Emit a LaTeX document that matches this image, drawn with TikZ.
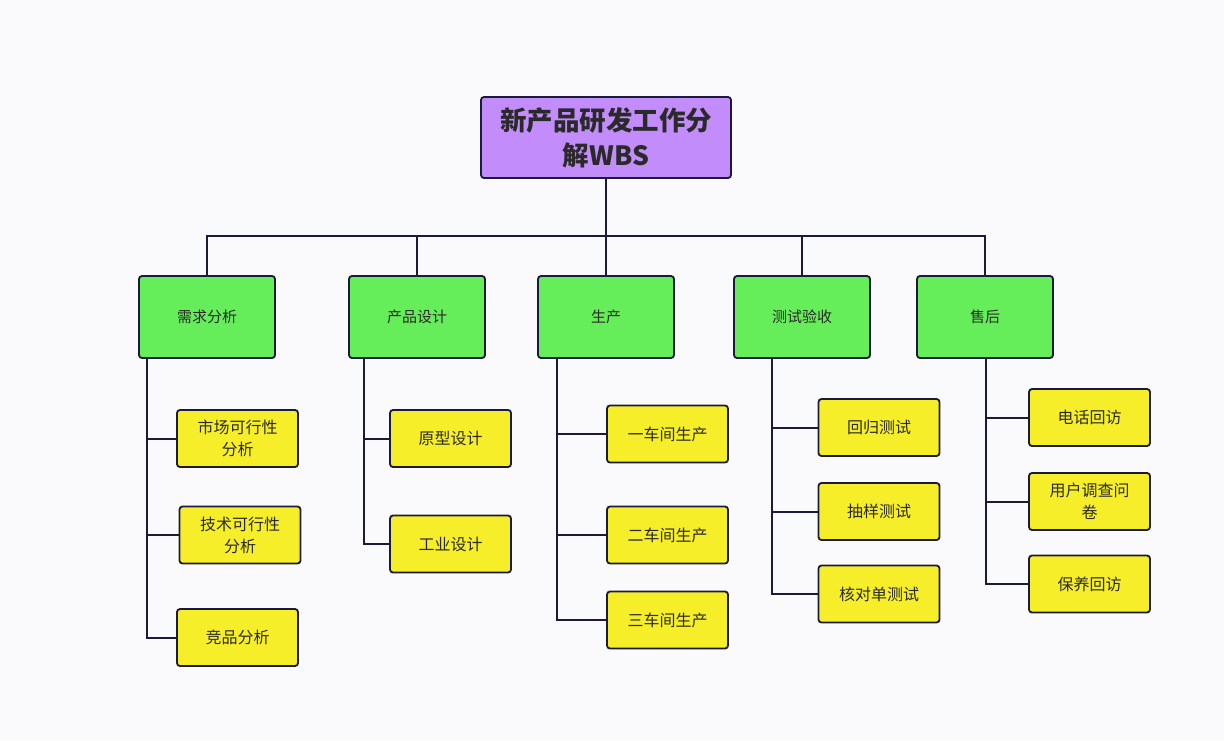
\documentclass[tikz,border=0pt]{standalone}
\usepackage{fontspec}
\newfontfamily\cjk{Noto Sans CJK SC}
\definecolor{bgc}{HTML}{FAFAFC}
\definecolor{rootfill}{HTML}{C28CFA}
\definecolor{lonefill}{HTML}{66EE5A}
\definecolor{ltwofill}{HTML}{F7EE2A}
\definecolor{linec}{HTML}{1A1A3A}
\definecolor{txtc}{HTML}{2A2A2A}
\begin{document}
\begin{tikzpicture}[x=1pt,y=-1pt,
  rootbox/.style={draw=linec,line width=1.8pt,rounded corners=3pt,fill=rootfill,minimum width=250pt,minimum height=81pt,align=center,font=\cjk\bfseries\fontsize{26.5}{35}\selectfont,text=txtc,inner sep=0pt},
  lonebox/.style={draw=linec,line width=1.8pt,rounded corners=3pt,fill=lonefill,minimum width=136pt,minimum height=82pt,align=center,font=\cjk\fontsize{15}{19}\selectfont,text=txtc,inner sep=0pt},
  ltwobox/.style={draw=linec,line width=1.8pt,rounded corners=3pt,fill=ltwofill,minimum width=121pt,minimum height=57pt,align=center,font=\cjk\fontsize{16}{22}\selectfont,text=txtc,inner sep=0pt},
  conn/.style={draw=linec,line width=2pt}]
\fill[bgc] (0,0) rectangle (1224,740);
\useasboundingbox (0,0) rectangle (1224,740);

\node[rootbox] (root) at (606,137.5) {新产品研发工作分\\解WBS};

\node[lonebox] (a) at (207,317) {需求分析};
\node[lonebox] (b) at (417,317) {产品设计};
\node[lonebox] (c) at (606,317) {生产};
\node[lonebox] (d) at (802,317) {测试验收};
\node[lonebox] (e) at (985,317) {售后};

\node[ltwobox] (a1) at (237.5,438.5) {市场可行性\\分析};
\node[ltwobox] (a2) at (240,535) {技术可行性\\分析};
\node[ltwobox] (a3) at (237.5,637.5) {竞品分析};

\node[ltwobox] (b1) at (450.5,438.5) {原型设计};
\node[ltwobox] (b2) at (450.5,544) {工业设计};

\node[ltwobox] (c1) at (667.5,434) {一车间生产};
\node[ltwobox] (c2) at (667.5,535) {二车间生产};
\node[ltwobox] (c3) at (667.5,620) {三车间生产};

\node[ltwobox] (d1) at (879,427.5) {回归测试};
\node[ltwobox] (d2) at (879,511.5) {抽样测试};
\node[ltwobox] (d3) at (879,594) {核对单测试};

\node[ltwobox] (e1) at (1089.5,417.5) {电话回访};
\node[ltwobox] (e2) at (1089.5,501.5) {用户调查问\\卷};
\node[ltwobox] (e3) at (1089.5,584) {保养回访};

% bus
\coordinate (bus) at (606,236);
\draw[conn] (root.south) -- (bus);
\draw[conn] (a.north) -- (a.north |- bus) -- (e.north |- bus) -- (e.north);
\foreach \n in {b,c,d} \draw[conn] (\n.north) -- (\n.north |- bus);

% trunks
\coordinate (ta) at (147,358);
\coordinate (tb) at (364,358);
\coordinate (tc) at (557,358);
\coordinate (td) at (772,358);
\coordinate (te) at (986,358);

\draw[conn] (ta) |- (a3.west);
\draw[conn] (ta |- a1.west) -- (a1.west);
\draw[conn] (ta |- a2.west) -- (a2.west);

\draw[conn] (tb) |- (b2.west);
\draw[conn] (tb |- b1.west) -- (b1.west);

\draw[conn] (tc) |- (c3.west);
\draw[conn] (tc |- c1.west) -- (c1.west);
\draw[conn] (tc |- c2.west) -- (c2.west);

\draw[conn] (td) |- (d3.west);
\draw[conn] (td |- d1.west) -- (d1.west);
\draw[conn] (td |- d2.west) -- (d2.west);

\draw[conn] (te) |- (e3.west);
\draw[conn] (te |- e1.west) -- (e1.west);
\draw[conn] (te |- e2.west) -- (e2.west);
\end{tikzpicture}
\end{document}
